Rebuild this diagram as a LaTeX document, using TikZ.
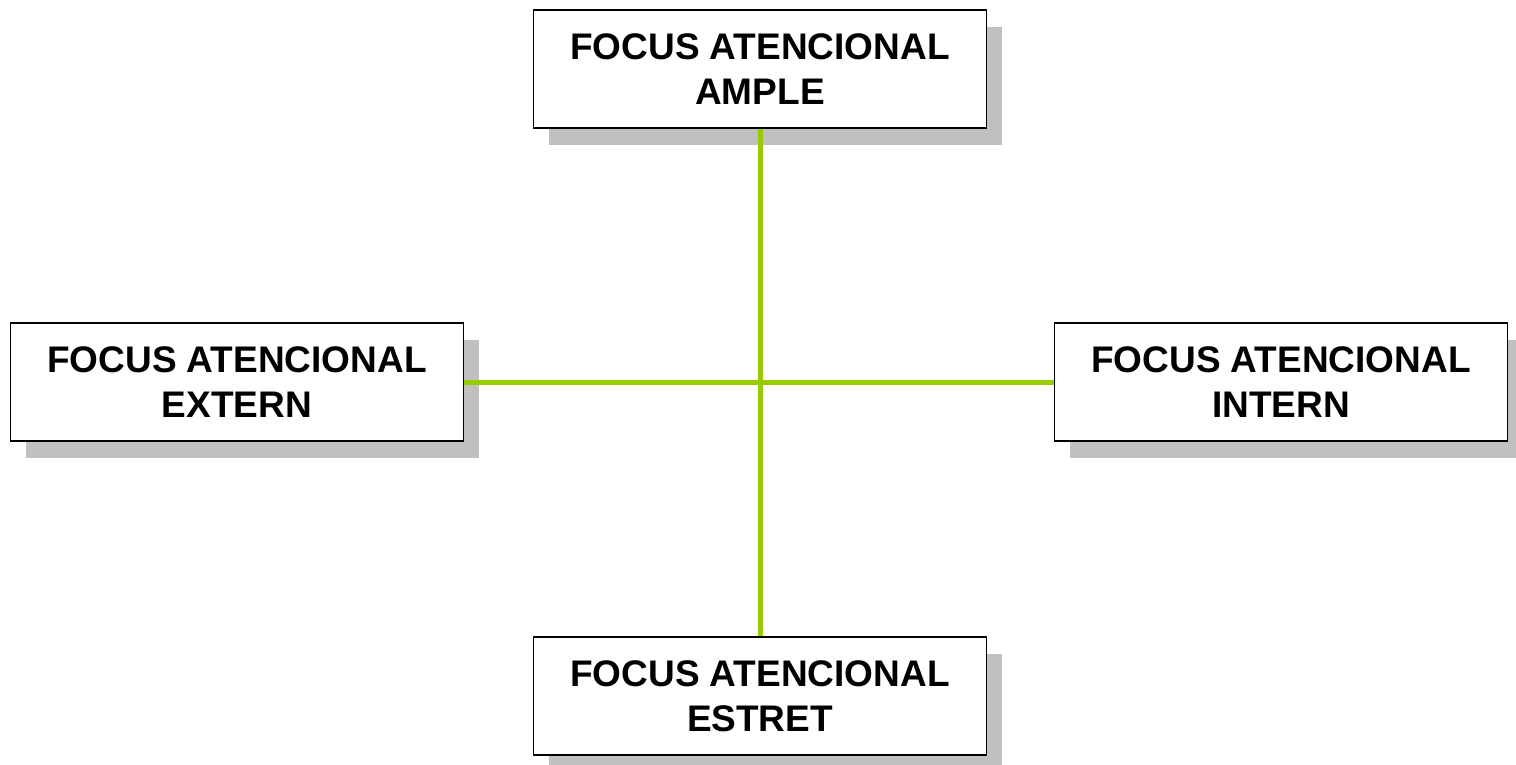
\documentclass[tikz,border=0pt]{standalone}
\usepackage{fontspec}
\setmainfont{Liberation Sans}
\usetikzlibrary{shadows}
\definecolor{lime}{HTML}{99CC00}
\definecolor{shade}{HTML}{C0C0C0}
\begin{document}
\begin{tikzpicture}[x=1pt,y=-1pt,
  focusbox/.style={draw=black, line width=1.3pt, fill=white, rectangle,
    minimum width=453pt, minimum height=118pt, inner sep=0pt,
    align=center, font=\fontsize{37}{45}\selectfont\bfseries,
    general shadow={shadow xshift=15pt, shadow yshift=-17pt, fill=shade}},
  axis/.style={draw=lime, line width=5pt}]
\useasboundingbox (0,0) rectangle (1516,764);
\node[focusbox] (ample) at (760,69) {FOCUS ATENCIONAL\\AMPLE};
\node[focusbox] (extern) at (237,382) {FOCUS ATENCIONAL\\EXTERN};
\node[focusbox] (intern) at (1281,382) {FOCUS ATENCIONAL\\INTERN};
\node[focusbox] (estret) at (760,696) {FOCUS ATENCIONAL\\ESTRET};
\draw[axis] (ample.south) -- (estret.north);
\draw[axis] (extern.east) -- (intern.west);
\end{tikzpicture}
\end{document}
